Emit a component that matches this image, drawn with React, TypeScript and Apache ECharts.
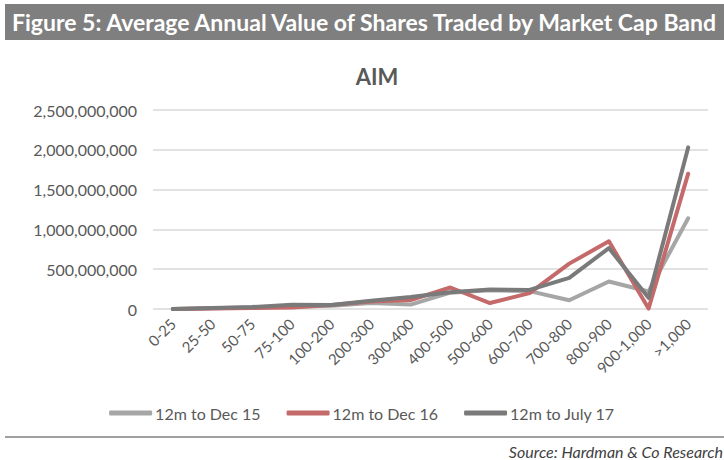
import React, { useEffect, useRef } from "react";
import * as echarts from "echarts";

const categories = ["0-25", "25-50", "50-75", "75-100", "100-200", "200-300", "300-400", "400-500", "500-600", "600-700", "700-800", "800-900", "900-1,000", ">1,000"];
const seriesNames = ["12m to Dec 15", "12m to Dec 16", "12m to July 17"];
const dec15 = [0, 8e6, 18e6, 30e6, 42e6, 75e6, 55e6, 205e6, 235e6, 225e6, 110e6, 345e6, 220e6, 1140e6];
const dec16 = [0, 6e6, 12e6, 20e6, 50e6, 95e6, 112e6, 270e6, 75e6, 200e6, 570e6, 850e6, 5e6, 1700e6];
const jul17 = [0, 12e6, 25e6, 52e6, 50e6, 105e6, 150e6, 210e6, 245e6, 240e6, 390e6, 765e6, 140e6, 2030e6];
const colors = ["#A6A6A6", "#C46A6A", "#7A7A7A"];
const yTicks = { min: 0, max: 2500000000, interval: 500000000 };

export default function App() {
  const ref = useRef<HTMLDivElement>(null);
  useEffect(() => {
    const chart = echarts.init(ref.current!, null, { renderer: "svg" });
    const data = [dec15, dec16, jul17];
    chart.setOption({
      animation: false,
      backgroundColor: "#ffffff",
      textStyle: { fontFamily: "Lato" },
      graphic: [
        { type: "rect", shape: { x: 5, y: 4, width: 719, height: 36 }, style: { fill: "#7F7F7F" } },
        { type: "text", x: 12, y: 22, style: { text: "Figure 5: Average Annual Value of Shares Traded by Market Cap Band", fill: "#ffffff", font: "bold 23px Lato", textVerticalAlign: "middle" } },
        { type: "line", shape: { x1: 5, y1: 437, x2: 724, y2: 437 }, style: { stroke: "#7F7F7F", lineWidth: 1.5 } },
        { type: "text", right: 1, y: 443, style: { text: "Source: Hardman & Co Research", fill: "#404040", font: "italic 16px Lato" } },
      ],
      title: {
        text: "AIM",
        left: 372,
        top: 60,
        textAlign: "center",
        textStyle: { fontFamily: "Lato", fontWeight: "bold", fontSize: 22, color: "#595959" },
      },
      legend: {
        top: 400,
        left: "center",
        icon: "roundRect",
        itemWidth: 43,
        itemHeight: 5,
        itemGap: 26,
        textStyle: { fontFamily: "Lato", fontSize: 16, color: "#595959", padding: [0, 0, 0, -2] },
        data: seriesNames,
      },
      grid: { left: 153, right: 16, top: 110, bottom: 151, containLabel: false },
      xAxis: {
        type: "category",
        data: categories,
        boundaryGap: true,
        axisLine: { show: false },
        axisTick: { show: false },
        axisLabel: { rotate: 45, fontSize: 15, color: "#595959", margin: 12, interval: 0, fontFamily: "Lato" },
      },
      yAxis: {
        type: "value",
        ...yTicks,
        axisLine: { show: false },
        axisTick: { show: false },
        splitLine: { lineStyle: { color: "#D9D9D9", width: 1.5 } },
        axisLabel: {
          fontSize: 16,
          color: "#595959",
          margin: 16,
          fontFamily: "Lato",
          formatter: (v: number) => v.toLocaleString("en-US"),
        },
      },
      series: seriesNames.map((name, i) => ({
        name,
        type: "line",
        data: data[i],
        symbol: "none",
        color: colors[i],
        lineStyle: { width: 4, color: colors[i], cap: "round", join: "round" },
        itemStyle: { color: colors[i] },
        z: 2 + i,
      })),
    });
    return () => chart.dispose();
  }, []);
  return <div ref={ref} style={{ width: 724, height: 460, position: "absolute", left: 0, top: 0 }} />;
}
